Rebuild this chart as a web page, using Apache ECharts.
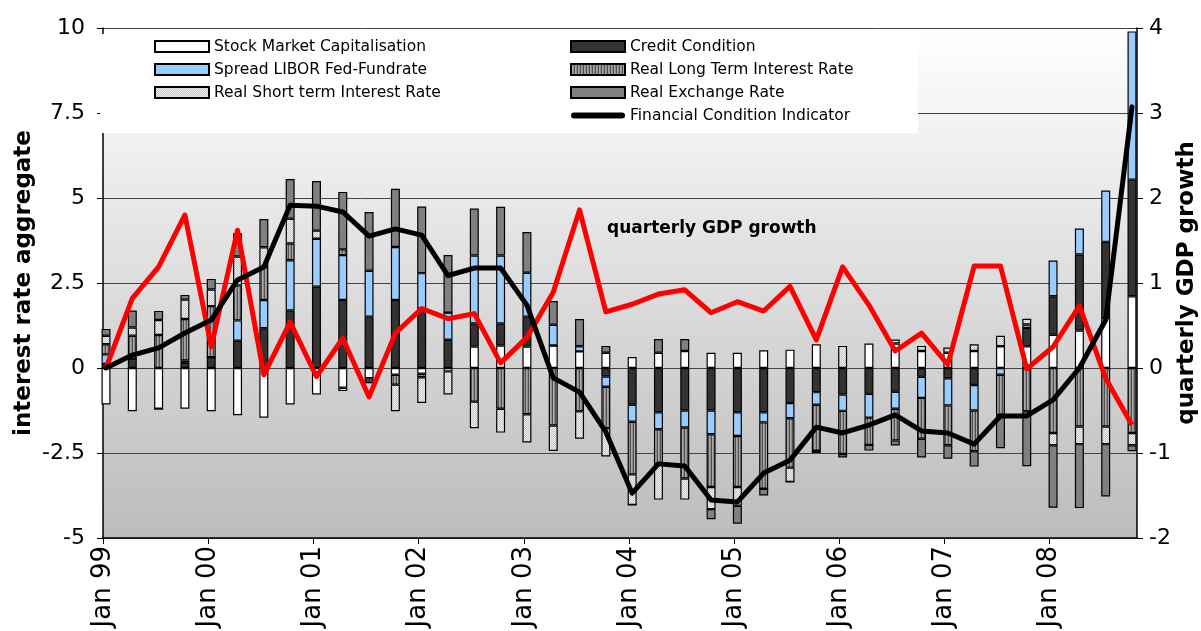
<!DOCTYPE html>
<html><head><meta charset="utf-8">
<script src="https://cdn.jsdelivr.net/npm/echarts@6/dist/echarts.min.js"></script>
<style>html,body{margin:0;padding:0;background:#fff;overflow:hidden}#c{width:1201px;height:631px}</style>
</head><body><div id="c"></div>
<script>
const quarters = ['Q1 99','Q2 99','Q3 99','Q4 99','Q1 00','Q2 00','Q3 00','Q4 00','Q1 01','Q2 01','Q3 01','Q4 01',
  'Q1 02','Q2 02','Q3 02','Q4 02','Q1 03','Q2 03','Q3 03','Q4 03','Q1 04','Q2 04','Q3 04','Q4 04',
  'Q1 05','Q2 05','Q3 05','Q4 05','Q1 06','Q2 06','Q3 06','Q4 06','Q1 07','Q2 07','Q3 07','Q4 07',
  'Q1 08','Q2 08','Q3 08','Q4 08'];
const yearTicks = ['Jan 99','Jan 00','Jan 01','Jan 02','Jan 03','Jan 04','Jan 05','Jan 06','Jan 07','Jan 08'];

const stockMarket = [-1.07,-1.27,-1.2,-1.2,-1.27,-1.39,-1.46,-1.07,-0.78,-0.58,-0.3,-0.2,-0.17,-0.1,0.63,0.66,0.63,0.66,0.49,0.45,
  0.32,0.45,0.5,0.45,0.45,0.52,0.54,0.7,0,0.72,0.72,0.5,0.45,0.5,0.64,0.64,0.98,1.1,1.47,2.11];
const creditCondition = [0.12,0.27,0,0.15,0.32,0.8,1.17,1.69,2.39,2.0,1.51,2.0,1.75,0.83,0.68,0.65,0.88,0,0,-0.25,
  -1.08,-1.3,-1.25,-1.25,-1.3,-1.3,-1.03,-0.71,-0.78,-0.76,-0.7,-0.26,-0.3,-0.5,0,0.54,1.13,2.24,2.24,3.43];
const spreadLibor = [0.28,0,0,0.07,0,0.6,0.83,1.48,1.41,1.32,1.35,1.56,1.04,0.8,2.0,2.0,1.29,0.61,0.15,-0.3,
  -0.5,-0.5,-0.5,-0.7,-0.7,-0.3,-0.45,-0.37,-0.48,-0.7,-0.5,-0.62,-0.8,-0.75,-0.2,0.1,1.05,0.76,1.51,4.36];
const realLongRate = [0.3,0.68,0.97,1.22,1.5,1.03,0.97,0.49,0,0.17,-0.1,-0.29,-0.1,0,-0.99,-1.2,-1.36,-1.69,-1.27,-1.22,
  -1.55,-1.02,-1.5,-1.55,-1.5,-1.95,-1.45,-1.35,-1.27,-0.8,-0.93,-1.2,-1.17,-1.2,-1.18,-1.27,-1.91,-1.72,-1.72,-1.91];
const realShortRate = [0.25,0.24,0.44,0.57,0.49,0.85,0.58,0.73,0.24,-0.1,-0.05,-0.78,-0.76,-0.68,-0.78,-0.7,-0.83,-0.75,-0.81,-0.83,
  -0.9,-1.05,-0.62,-0.65,-0.55,0,-0.42,0,0.65,0,0.12,0.15,0.15,0.2,0.31,0.17,-0.36,-0.52,-0.52,-0.36];
const realExchangeRate = [0.2,0.5,0.27,0.14,0.31,0.68,0.83,1.17,1.46,1.69,1.73,1.71,1.96,1.69,1.38,1.43,1.2,0.7,0.8,0.2,
  0,0.4,0.35,-0.3,-0.53,-0.2,0,-0.07,-0.1,-0.17,-0.15,-0.55,-0.4,-0.45,-0.98,-1.62,-1.84,-1.88,-1.54,-0.18];
const financialCondition = [0,0.38,0.59,1.03,1.41,2.59,2.97,4.79,4.76,4.59,3.88,4.09,3.91,2.72,2.94,2.94,1.85,-0.29,-0.71,-1.88,
  -3.68,-2.82,-2.88,-3.88,-3.94,-3.09,-2.71,-1.74,-1.91,-1.68,-1.38,-1.85,-1.91,-2.24,-1.41,-1.41,-0.94,0,1.41,7.68];
const gdpGrowth = [0,0.82,1.19,1.8,0.25,1.62,-0.08,0.54,-0.1,0.35,-0.34,0.41,0.7,0.58,0.64,0.06,0.36,0.89,1.86,0.66,
  0.75,0.87,0.92,0.65,0.78,0.67,0.96,0.33,1.19,0.74,0.2,0.41,0.04,1.2,1.2,-0.01,0.25,0.73,-0.12,-0.67];

function makePattern(grid) {
  const h = grid.length, w = grid[0].length;
  const c = document.createElement('canvas');
  c.width = w; c.height = h;
  const ctx = c.getContext('2d');
  for (let y = 0; y < h; y++) for (let x = 0; x < w; x++) { ctx.fillStyle = grid[y][x]; ctx.fillRect(x, y, 1, 1); }
  return { image: c, repeat: 'repeat' };
}
const longPattern = makePattern([['#505050', '#a8a8a8', '#8c8c8c']]);
const shortPattern = makePattern([['#f2f2f2', '#c4c4c4'], ['#c4c4c4', '#f2f2f2']]);

const FONT = 'DejaVu Sans';
function barSeries(name, data, color) {
  return {
    name, type: 'bar', xAxisIndex: 1, yAxisIndex: 2, stack: 'fci', stackStrategy: 'samesign',
    data, barWidth: 9, clip: false, z: 3,
    itemStyle: { color, borderColor: '#000', borderWidth: 1.2 },
    emphasis: { disabled: true }
  };
}

const chart = echarts.init(document.getElementById('c'), null, { renderer: 'canvas' });
chart.setOption({
  animation: false,
  backgroundColor: '#fff',
  grid: [
    { left: 103, right: 64, top: 28, bottom: 93, show: true, borderWidth: 0, outerBoundsMode: 'none', containLabel: false,
      backgroundColor: { type: 'linear', x: 0, y: 0, x2: 0, y2: 1,
        colorStops: [{ offset: 0, color: '#ffffff' }, { offset: 1, color: '#bcbcbc' }] } },
    { left: 106, right: 69, top: 28, bottom: 93, show: false, outerBoundsMode: 'none', containLabel: false }
  ],
  xAxis: [
    { type: 'value', gridIndex: 0, min: 0, max: 39.32, interval: 4,
      axisLine: { onZero: false, lineStyle: { color: '#000', width: 1.5 } },
      axisTick: { show: true, length: 6, lineStyle: { color: '#000', width: 1 } },
      splitLine: { show: false },
      axisLabel: { rotate: 90, margin: 8, fontSize: 26, fontFamily: FONT, color: '#000', showMaxLabel: false,
        formatter: v => (v % 4 === 0 && v / 4 < yearTicks.length) ? yearTicks[v / 4] : '' } },
    { type: 'category', gridIndex: 1, data: quarters, boundaryGap: false, show: false }
  ],
  yAxis: [
    { type: 'value', gridIndex: 0, position: 'left', min: -5, max: 10, interval: 2.5,
      name: 'interest rate aggregate', nameLocation: 'middle', nameGap: 67, nameRotate: 90, nameMoveOverlap: false,
      nameTextStyle: { fontFamily: FONT, fontWeight: 'bold', fontSize: 23, color: '#000' },
      axisLine: { show: true, lineStyle: { color: '#000', width: 1.5 } },
      axisTick: { show: true, length: 6, lineStyle: { color: '#000' } },
      axisLabel: { margin: 18, fontSize: 22, fontFamily: FONT, color: '#000' },
      splitLine: { show: true, lineStyle: { color: '#444', width: 1 } } },
    { type: 'value', gridIndex: 0, position: 'right', min: -2, max: 4, interval: 1,
      name: 'quarterly GDP growth', nameLocation: 'middle', nameGap: 39, nameRotate: 90, nameMoveOverlap: false,
      nameTextStyle: { fontFamily: FONT, fontWeight: 'bold', fontSize: 23, color: '#000' },
      axisLine: { show: true, lineStyle: { color: '#000', width: 1.5 } },
      axisTick: { show: true, length: 6, lineStyle: { color: '#000' } },
      axisLabel: { margin: 12, fontSize: 22, fontFamily: FONT, color: '#000' },
      splitLine: { show: false } },
    { type: 'value', gridIndex: 1, min: -5, max: 10, interval: 2.5, show: false, splitLine: { show: false } },
    { type: 'value', gridIndex: 1, min: -2, max: 4, interval: 1, show: false, splitLine: { show: false } }
  ],
  legend: [
    { orient: 'vertical', left: 154, top: 38, padding: 0, itemWidth: 54, itemHeight: 11, itemGap: 6,
      selectedMode: false, textStyle: { fontFamily: FONT, fontSize: 15.5, lineHeight: 17, color: '#000' },
      data: [{ name: 'Stock Market Capitalisation', icon: 'rect' },
             { name: 'Spread LIBOR Fed-Fundrate', icon: 'rect' },
             { name: 'Real Short term Interest Rate', icon: 'rect' }] },
    { orient: 'vertical', left: 570, top: 38, padding: 0, itemWidth: 54, itemHeight: 11, itemGap: 6,
      selectedMode: false, textStyle: { fontFamily: FONT, fontSize: 15.5, lineHeight: 17, color: '#000' },
      data: [{ name: 'Credit Condition', icon: 'rect' },
             { name: 'Real Long Term Interest Rate', icon: 'rect' },
             { name: 'Real Exchange Rate', icon: 'rect' },
             { name: 'Financial Condition Indicator', icon: 'path://M3,0 L51,0 A3,3 0 0 1 51,6 L3,6 A3,3 0 0 1 3,0 Z' }] }
  ],
  graphic: [
    { type: 'rect', z: 1, silent: true, shape: { x: 100, y: 34, width: 818, height: 99 }, style: { fill: '#fff' } },
    { type: 'text', z: 10, silent: true, x: 607, y: 229,
      style: { text: 'quarterly GDP growth', font: 'bold 17px "DejaVu Sans"', fill: '#000', verticalAlign: 'middle' } }
  ],
  series: [
    barSeries('Stock Market Capitalisation', stockMarket, '#ffffff'),
    barSeries('Credit Condition', creditCondition, '#333333'),
    barSeries('Spread LIBOR Fed-Fundrate', spreadLibor, '#99ccff'),
    barSeries('Real Long Term Interest Rate', realLongRate, longPattern),
    barSeries('Real Short term Interest Rate', realShortRate, shortPattern),
    barSeries('Real Exchange Rate', realExchangeRate, '#808080'),
    { name: 'quarterly GDP growth', type: 'line', xAxisIndex: 1, yAxisIndex: 3, data: gdpGrowth,
      symbol: 'none', clip: false, z: 5, lineStyle: { color: '#ff0000', width: 5, join: 'round' },
      itemStyle: { color: '#ff0000' }, emphasis: { disabled: true } },
    { name: 'Financial Condition Indicator', type: 'line', xAxisIndex: 1, yAxisIndex: 2, data: financialCondition,
      symbol: 'none', clip: false, z: 6, lineStyle: { color: '#000', width: 5, join: 'round', cap: 'round' },
      itemStyle: { color: '#000' }, emphasis: { disabled: true } }
  ]
});
</script>
</body></html>
